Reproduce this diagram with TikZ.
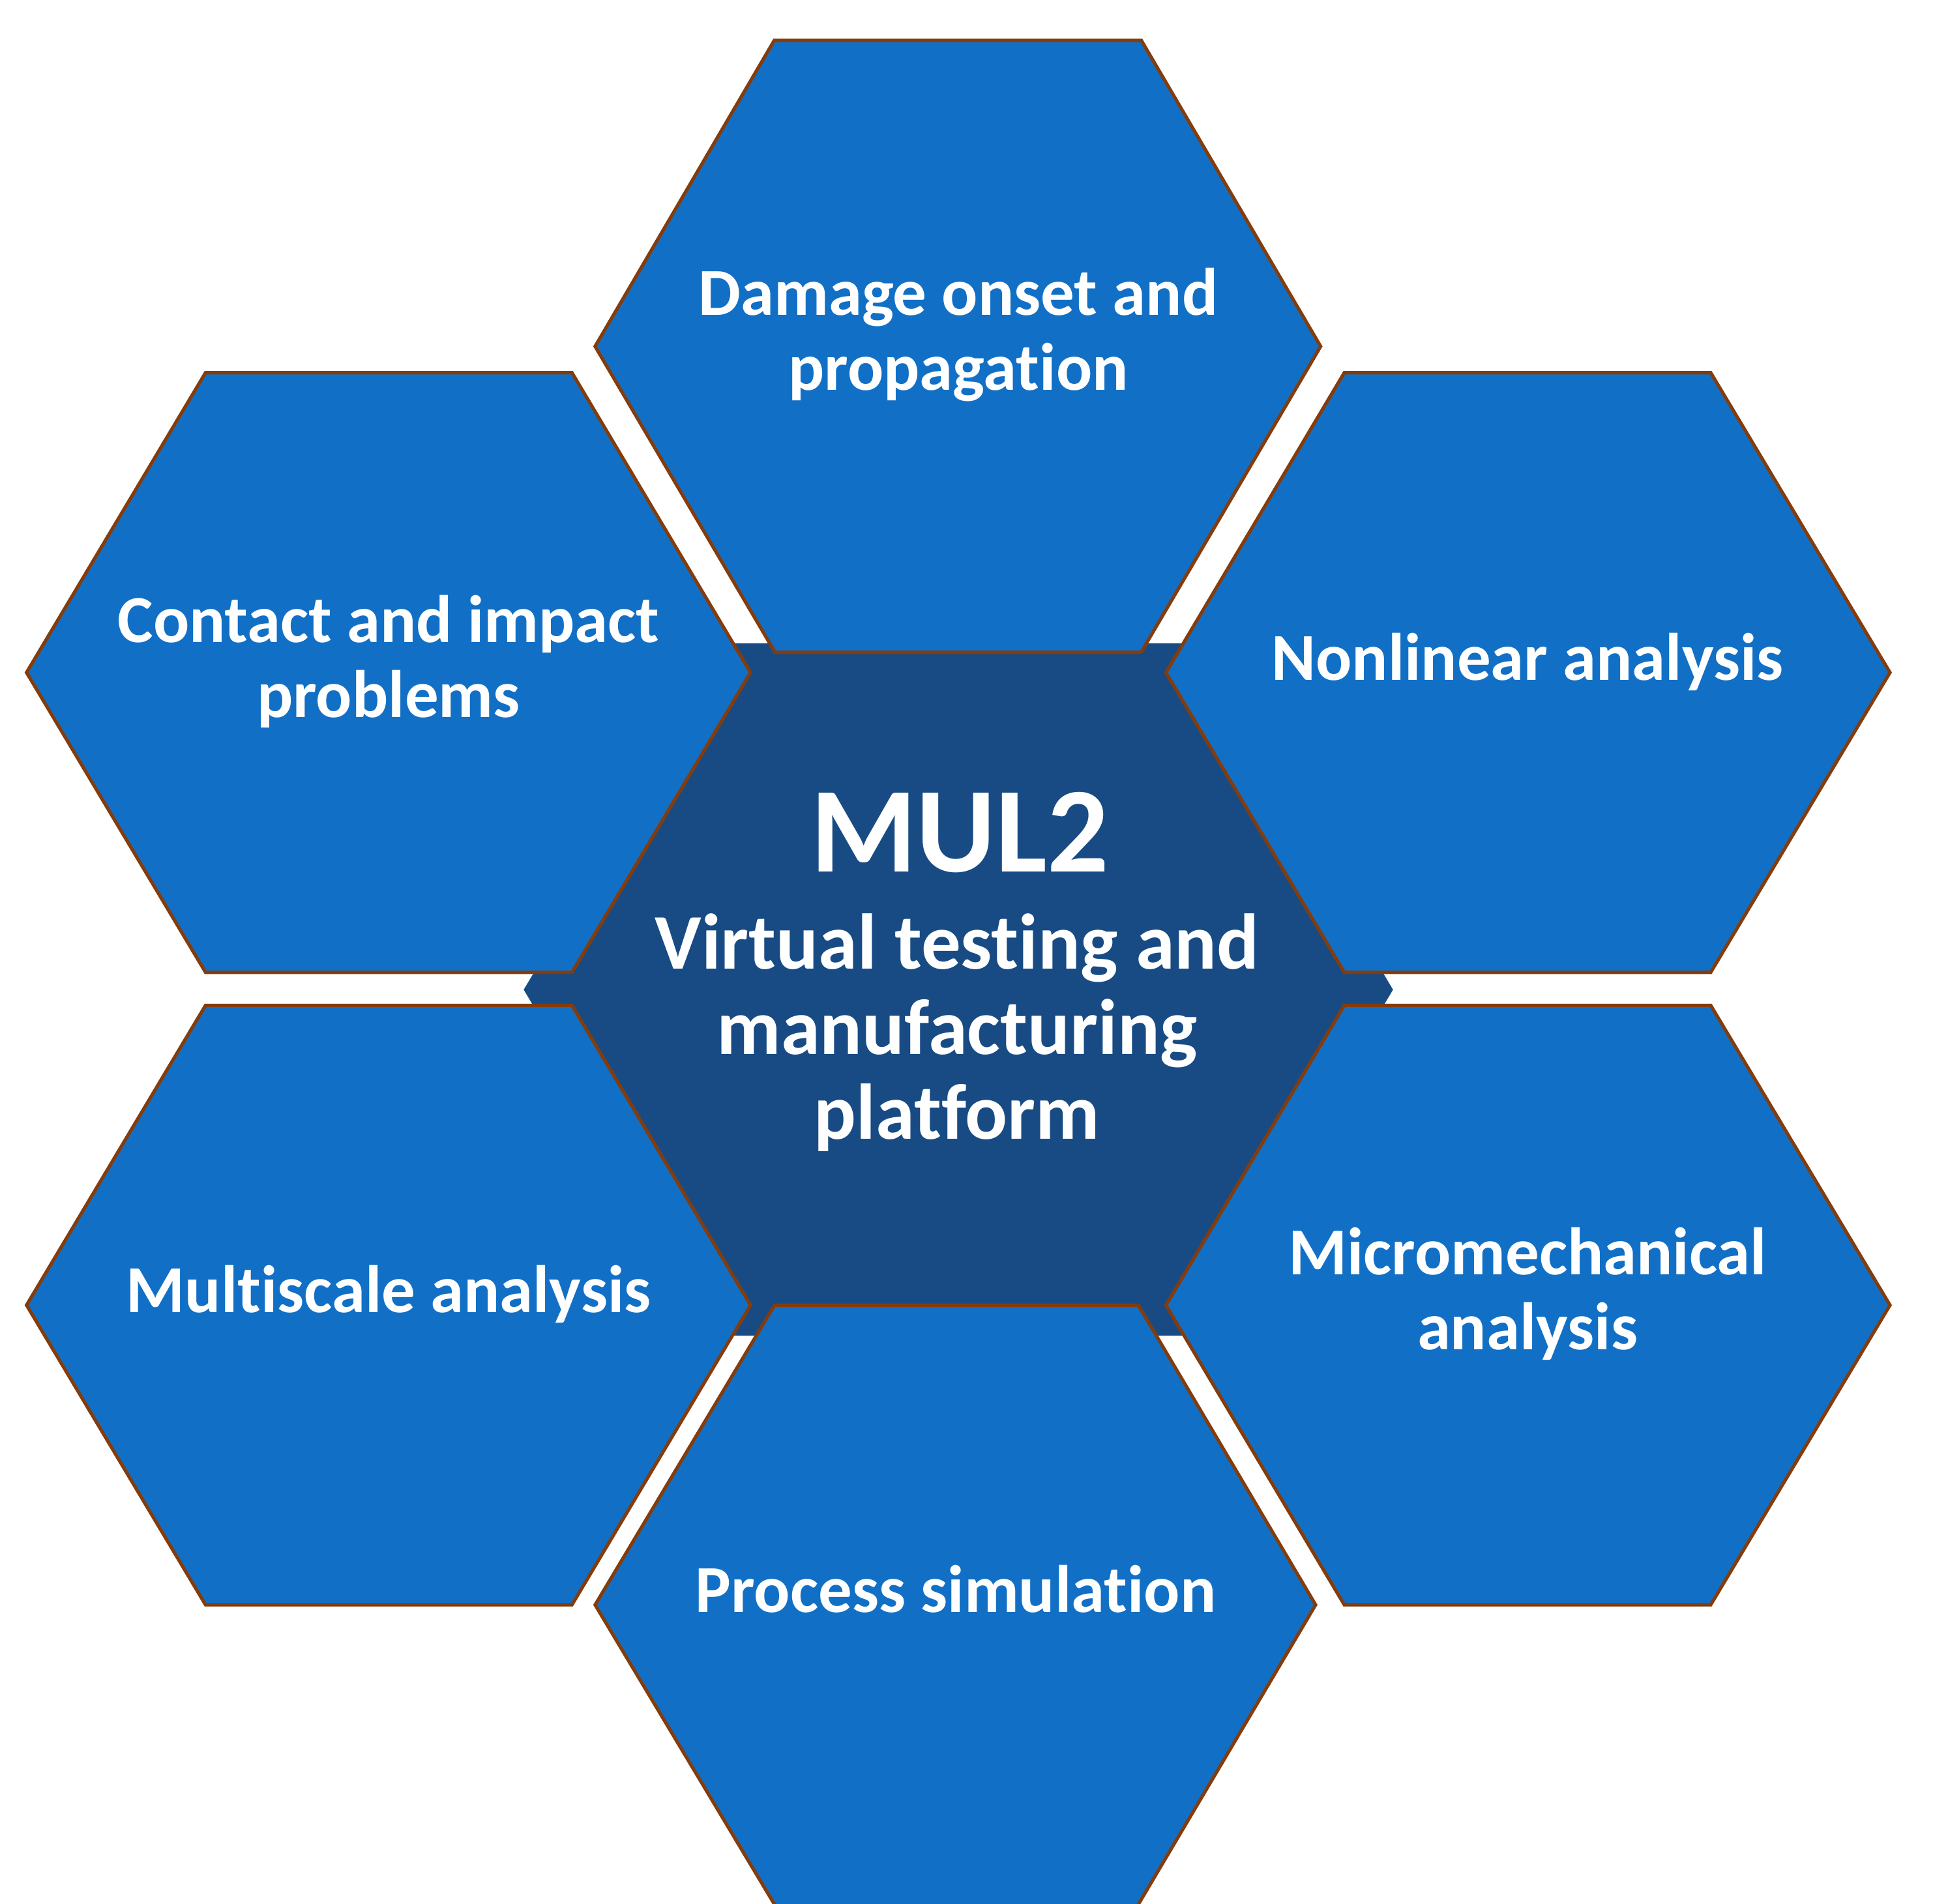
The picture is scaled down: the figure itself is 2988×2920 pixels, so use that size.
\documentclass[tikz,border=0pt]{standalone}
\usepackage{fontspec}
\setmainfont[Ligatures=NoCommon]{Carlito}
\definecolor{hexblue}{HTML}{1170C6}
\definecolor{hexdark}{HTML}{184B84}
\definecolor{hexedge}{HTML}{843C0C}
\begin{document}
\begin{tikzpicture}[x=0.01cm,y=-0.01cm,
  outerhex/.style={fill=hexblue,draw=hexedge,line width=1.45pt,line join=miter},
  centerhex/.style={fill=hexdark},
  lbl/.style={anchor=base,text=white,inner sep=0pt,font=\fontsize{29.3}{35}\selectfont\bfseries},
  lblmid/.style={anchor=base,text=white,inner sep=0pt,font=\fontsize{34.4}{41}\selectfont\bfseries},
  lblbig/.style={anchor=base,text=white,inner sep=0pt,font=\fontsize{53}{63}\selectfont\bfseries}]
\clip (0,0) rectangle (2988,2920);
\fill[white] (0,0) rectangle (2988,2920);
% centre hexagon
\path[centerhex] (803.3,1518.3) -- (1120,987) -- (1820,987) -- (2136.7,1518.3) -- (1820,2049) -- (1120,2049) -- cycle;
% top
\path[outerhex] (912.8,531.4) -- (1187.6,62) -- (1750.7,62) -- (2025.7,531.4) -- (1750.3,1000.7) -- (1188.8,1000.7) -- cycle;
% upper left
\path[outerhex] (40.7,1031.7) -- (315.3,571.7) -- (877.3,571.7) -- (1151.2,1031.7) -- (877.3,1491.7) -- (315.3,1491.7) -- cycle;
% upper right
\path[outerhex] (1788.4,1031.7) -- (2062,571.7) -- (2624,571.7) -- (2899,1031.7) -- (2624,1491.7) -- (2062,1491.7) -- cycle;
% lower left
\path[outerhex] (40.7,2002.2) -- (315.3,1542.3) -- (877.3,1542.3) -- (1151.2,2002.2) -- (877.3,2462) -- (315.3,2462) -- cycle;
% lower right
\path[outerhex] (1788.4,2002.2) -- (2062,1542.3) -- (2624,1542.3) -- (2899,2002.2) -- (2624,2462) -- (2062,2462) -- cycle;
% bottom
\path[outerhex] (912.8,2462) -- (1188,2002.3) -- (1746,2002.3) -- (2018,2462) -- (1744,2925) -- (1190,2925) -- cycle;
% labels
\node[lbl] (dmg1) at (1470,483) {Damage onset and};
\node[lbl] (dmg2) at (1470,598) {propagation};
\node[lbl] (con1) at (596,985) {Contact and impact};
\node[lbl] (con2) at (596,1100) {problems};
\node[lbl] (nonlin) at (2343,1043) {Nonlinear analysis};
\node[lbl] (multi) at (596,2013) {Multiscale analysis};
\node[lbl] (micro1) at (2343,1955) {Micromechanical};
\node[lbl] (micro2) at (2343,2070) {analysis};
\node[lbl] (proc) at (1466,2473) {Process simulation};
\node[lblbig] (mul) at (1472,1337.5) {MUL2};
\node[lblmid] (vt1) at (1468,1486) {Virtual testing and};
\node[lblmid] (vt2) at (1468,1617) {manufacturing};
\node[lblmid] (vt3) at (1468,1747) {platform};
\end{tikzpicture}
\end{document}
